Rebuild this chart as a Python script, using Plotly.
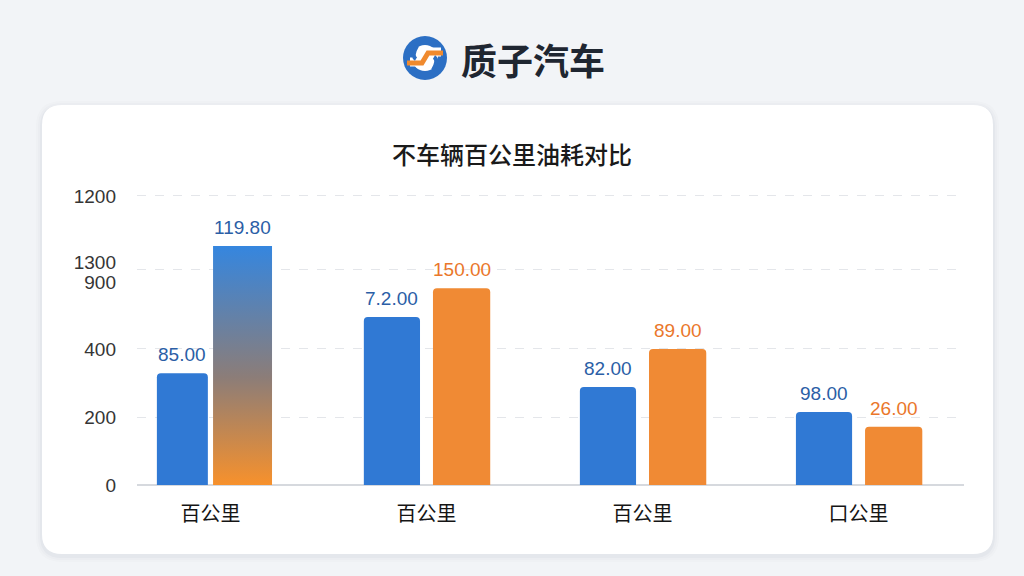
import plotly.graph_objects as go

# ---------------- data ----------------
categories = ["百公里", "百公里", "百公里", "口公里"]
# bar heights in the (non-uniform) scale of the chart's axis
blue_values = [329, 494, 288, 215]
orange_values = [703, 579, 400, 171]
# value labels as printed on the chart
blue_labels = ["85.00", "7.2.00", "82.00", "98.00"]
orange_labels = ["119.80", "150.00", "89.00", "26.00"]
# axis ticks (positions on the axis scale, and the printed labels)
y_tick_vals = [0, 200, 400, 597, 656, 850]
y_tick_text = ["0", "200", "400", "900", "1300", "1200"]
y_grid_vals = [200, 400, 635, 850]

title_text = "不车辆百公里油耗对比"
brand_text = "质子汽车"

# ---------------- style ----------------
W, H = 1024, 565  # design canvas (effective rendered height)
BLUE = "#3079d4"
ORANGE = "#f08a34"
BLUE_TXT = "#2b5ea6"
ORANGE_TXT = "#ea772b"
NUM_FONT = "Liberation Sans, Arial, Noto Sans CJK SC, sans-serif"
CJK_FONT = "Noto Sans CJK SC, Noto Sans, sans-serif"

blue_offsets = [-0.248, -0.29, -0.29, -0.29]
blue_widths = [0.236, 0.26, 0.26, 0.26]
orange_offsets = [0.012, 0.03, 0.03, 0.03]
orange_widths = [0.273, 0.265, 0.265, 0.265]


def P(x, y):
    return f"{x / W:.5f},{1 - y / H:.5f}"


def rounded_rect(x0, y0, x1, y1, r):
    return (f"M {P(x0 + r, y0)} L {P(x1 - r, y0)} Q {P(x1, y0)} {P(x1, y0 + r)} "
            f"L {P(x1, y1 - r)} Q {P(x1, y1)} {P(x1 - r, y1)} "
            f"L {P(x0 + r, y1)} Q {P(x0, y1)} {P(x0, y1 - r)} "
            f"L {P(x0, y0 + r)} Q {P(x0, y0)} {P(x0 + r, y0)} Z")


x_idx = list(range(len(categories)))

fig = go.Figure()

fig.add_trace(go.Bar(
    x=x_idx, y=blue_values, width=blue_widths, offset=blue_offsets,
    marker=dict(color=BLUE, cornerradius=4, line=dict(width=0)),
    hoverinfo="skip", showlegend=False,
))

# first orange bar is drawn with a gradient fill below
orange_colors = ["rgba(0,0,0,0)"] + [ORANGE] * (len(orange_values) - 1)
fig.add_trace(go.Bar(
    x=x_idx, y=orange_values, width=orange_widths, offset=orange_offsets,
    marker=dict(color=orange_colors, cornerradius=4, line=dict(width=0)),
    hoverinfo="skip", showlegend=False,
))

# gradient bar (blue on top fading into orange at the bottom)
gx0 = x_idx[0] + orange_offsets[0]
gx1 = gx0 + orange_widths[0]
gv = orange_values[0]
fig.add_trace(go.Scatter(
    x=[gx0, gx0, gx1, gx1, gx0], y=[0, gv, gv, 0, 0],
    mode="lines", fill="toself", line=dict(width=0),
    fillgradient=dict(type="vertical",
                      colorscale=[[0, "#f7912c"], [0.45, "#8c7d78"], [1, "#3586df"]]),
    hoverinfo="skip", showlegend=False,
))

annotations = []
for i in x_idx:
    annotations.append(dict(
        x=i + blue_offsets[i] + blue_widths[i] / 2, y=blue_values[i], xref="x", yref="y",
        text=blue_labels[i], showarrow=False, yanchor="bottom", yshift=6,
        font=dict(family=NUM_FONT, size=19, color=BLUE_TXT)))
    annotations.append(dict(
        x=i + orange_offsets[i] + orange_widths[i] / 2, y=orange_values[i], xref="x", yref="y",
        text=orange_labels[i], showarrow=False, yanchor="bottom", yshift=6,
        font=dict(family=NUM_FONT, size=19,
                  color=BLUE_TXT if i == 0 else ORANGE_TXT)))

# title and brand
annotations.append(dict(
    x=512 / W, y=1 - 153 / H, xref="paper", yref="paper", text=title_text,
    showarrow=False, xanchor="center", yanchor="middle",
    font=dict(family=CJK_FONT, size=24, color="#1a1a1a", weight=500)))
annotations.append(dict(
    x=459 / W, y=1 - 59 / H, xref="paper", yref="paper", text=brand_text,
    showarrow=False, xanchor="left", yanchor="middle",
    font=dict(family=CJK_FONT, size=36, color="#1f2631", weight="bold")))

shapes = []
# card shadow + card
for k, a in [(6, 0.015), (4, 0.02), (2, 0.03)]:
    shapes.append(dict(type="path", xref="paper", yref="paper", layer="below",
                       path=rounded_rect(42 - k, 105 - k + 2, 993 + k, 554 + k + 2, 20 + k),
                       fillcolor=f"rgba(40,60,90,{a})", line=dict(width=0)))
shapes.append(dict(type="path", xref="paper", yref="paper", layer="below",
                   path=rounded_rect(42, 105, 993, 554, 20),
                   fillcolor="#ffffff", line=dict(width=0)))

# logo
cx, cy, r = 425, 58, 22
shapes.append(dict(type="circle", xref="paper", yref="paper", layer="above",
                   x0=(cx - r) / W, x1=(cx + r) / W, y0=1 - (cy + r) / H, y1=1 - (cy - r) / H,
                   fillcolor="#2c6fc4", line=dict(width=0)))
shapes.append(dict(type="circle", xref="paper", yref="paper", layer="above",
                   x0=(cx - 13) / W, x1=(cx + 13) / W, y0=1 - (cy + 13) / H, y1=1 - (cy - 13) / H,
                   fillcolor="#ffffff", line=dict(width=0)))
shapes.append(dict(type="path", xref="paper", yref="paper", layer="above",
                   path=f"M {P(cx - 15, cy + 4)} L {P(cx - 2, cy + 4)} L {P(cx + 4, cy - 6)} L {P(cx + 16, cy - 6)}",
                   line=dict(color="#ffffff", width=9)))
shapes.append(dict(type="path", xref="paper", yref="paper", layer="above",
                   path=f"M {P(cx - 18, cy + 5)} L {P(cx - 3, cy + 5)} L {P(cx + 3, cy - 5)} L {P(cx + 18, cy - 5)}",
                   line=dict(color="#f08a2e", width=5)))
shapes.append(dict(type="path", xref="paper", yref="paper", layer="above",
                   path=f"M {P(cx - 8, cy - 12)} Q {P(cx - 14, cy - 2)} {P(cx - 9, cy + 1)}",
                   line=dict(color="#2c6fc4", width=4)))
shapes.append(dict(type="path", xref="paper", yref="paper", layer="above",
                   path=f"M {P(cx + 8, cy + 12)} Q {P(cx + 14, cy + 2)} {P(cx + 9, cy - 1)}",
                   line=dict(color="#2c6fc4", width=4)))

fig.update_layout(
    autosize=True,
    margin=dict(l=0, r=0, t=0, b=0, pad=0),
    paper_bgcolor="#f2f4f7", plot_bgcolor="rgba(0,0,0,0)",
    barmode="overlay", showlegend=False,
    annotations=annotations, shapes=shapes,
    xaxis=dict(domain=[137 / W, 964 / W], range=[-0.34, 3.488],
               tickmode="array", tickvals=x_idx, ticktext=categories,
               showgrid=False, zeroline=False, showline=False, ticks="",
               ticklabelstandoff=15,
               tickfont=dict(family=CJK_FONT, size=20, color="#151515")),
    yaxis=dict(domain=[1 - 485 / H, 1 - 180 / H], range=[0, 897],
               tickmode="array", tickvals=y_tick_vals, ticktext=y_tick_text,
               showgrid=False,
               minor=dict(tickmode="array", tickvals=y_grid_vals, showgrid=True,
                          gridcolor="#e4e6ea", griddash="dash", gridwidth=1, ticks=""),
               zeroline=True, zerolinecolor="#d6d9de", zerolinewidth=1.5,
               showline=False, ticks="", ticklabelstandoff=20,
               tickfont=dict(family=NUM_FONT, size=19, color="#353535")),
)

fig.write_html(
    "out.html",
    default_width="100vw",
    default_height="100vh",
    config={"displayModeBar": False, "responsive": True},
    post_script=(
        "document.documentElement.style.margin='0';"
        "document.documentElement.style.overflow='hidden';"
        "document.documentElement.style.background='#f2f4f7';"
        "document.body.style.margin='0';document.body.style.overflow='hidden';"
        "document.body.style.background='#f2f4f7';"
        "Plotly.Plots.resize(document.getElementById('{plot_id}'));"
    ),
)
